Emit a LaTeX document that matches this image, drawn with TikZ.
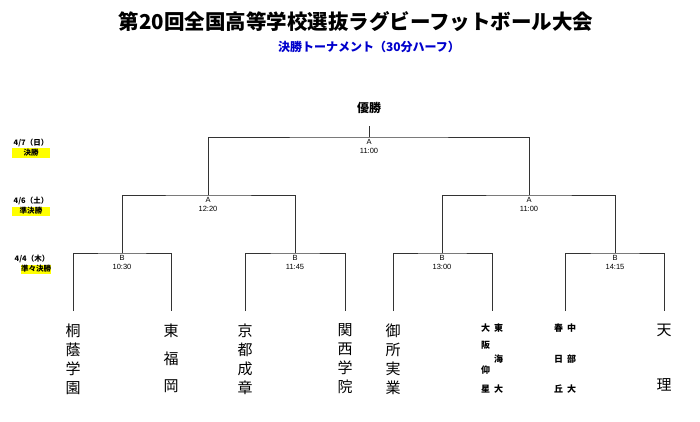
\documentclass[tikz,border=0pt]{standalone}
\usepackage{fontspec}
\setmainfont{Liberation Sans}
\newfontfamily\jp{Noto Sans CJK JP}
\usetikzlibrary{positioning, calc}
\definecolor{Line}{HTML}{333333}
\definecolor{Sub}{HTML}{0000CC}
\definecolor{Mark}{HTML}{FFFF00}
\tikzset{
    bracket/.style={draw=Line, line width=0.9pt},
    gamenode/.style={anchor=north, align=center, inner sep=0pt, outer sep=0pt, yshift=-2pt, font=\fontsize{7.5}{9.5}\selectfont},
    teamnode/.style={anchor=north, align=center, inner sep=0pt, outer ysep=13pt, font=\jp\fontsize{15}{19}\selectfont},
    duonode/.style={anchor=north, inner sep=0pt, outer ysep=13pt, font=\jp\bfseries\fontsize{9}{17}\selectfont},
    datenode/.style={inner sep=0pt, font=\jp\bfseries\fontsize{7.5}{8}\selectfont},
    roundnode/.style={fill=Mark, inner sep=0pt, minimum height=9pt, font=\jp\bfseries\fontsize{7.5}{8}\selectfont},
}
\newcommand{\colbox}[1]{\parbox[t]{9pt}{\centering #1}}
\begin{document}
\begin{tikzpicture}[x=1pt, y=-1pt]
    \useasboundingbox (0,0) rectangle (700,422);

    % Titolo
    \node[font=\jp\bfseries\fontsize{20.5}{22}\selectfont] (title) at (356,22) {第20回全国高等学校選抜ラグビーフットボール大会};
    \node[font=\jp\bfseries\fontsize{12}{13}\selectfont, text=Sub] (subtitle) at (369,47) {決勝トーナメント（30分ハーフ）};

    % Date e turni
    \node[datenode] (d1) at (31,143) {4/7（日）};
    \node[roundnode, minimum width=38pt] (r1) at (31,153) {決勝};
    \node[datenode] (d2) at (31,201) {4/6（土）};
    \node[roundnode, minimum width=38pt] (r2) at (31,211) {準決勝};
    \node[datenode] (d3) at (32,259) {4/4（木）};
    \node[roundnode, minimum width=30pt] (r3) at (36,269) {準々決勝};

    % Punti di incontro
    \coordinate (win) at (369,126);
    \coordinate (f)  at (369,137);
    \coordinate (s1) at (208,195);
    \coordinate (s2) at (529,195);
    \coordinate (q1) at (122,253);
    \coordinate (q2) at (295,253);
    \coordinate (q3) at (442,253);
    \coordinate (q4) at (615,253);

    \node[font=\jp\bfseries\fontsize{12}{13}\selectfont] (champ) at (369,108) {優勝};

    % Squadre
    \node[teamnode] (t1) at (73,311) {桐\\蔭\\学\\園};
    \node[teamnode] (t2) at (171,311) {東\\[9pt]福\\[8pt]岡};
    \node[teamnode] (t3) at (245,311) {京\\都\\成\\章};
    \node[teamnode] (t4) at (345,311) {関\\西\\学\\院};
    \node[teamnode] (t5) at (393,311) {御\\所\\実\\業};
    \node[duonode] (t6) at (492,311) {\colbox{大\\阪\\[8pt]仰\\[2pt]星}\hspace{4pt}\colbox{東\\[14pt]海\\[13pt]大}};
    \node[duonode] (t7) at (565,311) {\colbox{春\\[14pt]日\\[13pt]丘}\hspace{4pt}\colbox{中\\[14pt]部\\[13pt]大}};
    \node[teamnode] (t8) at (664,311) {天\\[36pt]理};

    % Tabellone
    \draw[bracket] (t1.north) |- (q1) -| (t2.north);
    \draw[bracket] (t3.north) |- (q2) -| (t4.north);
    \draw[bracket] (t5.north) |- (q3) -| (t6.north);
    \draw[bracket] (t7.north) |- (q4) -| (t8.north);
    \draw[bracket] (q1) |- (s1) -| (q2);
    \draw[bracket] (q3) |- (s2) -| (q4);
    \draw[bracket] (s1) |- (f) -| (s2);
    \draw[bracket] (f) -- (win);

    % Orari
    \node[gamenode] (gf)  at (f)  {A\\11:00};
    \node[gamenode] (gs1) at (s1) {A\\12:20};
    \node[gamenode] (gs2) at (s2) {A\\11:00};
    \node[gamenode] (gq1) at (q1) {B\\10:30};
    \node[gamenode] (gq2) at (q2) {B\\11:45};
    \node[gamenode] (gq3) at (q3) {B\\13:00};
    \node[gamenode] (gq4) at (q4) {B\\14:15};
\end{tikzpicture}
\end{document}
